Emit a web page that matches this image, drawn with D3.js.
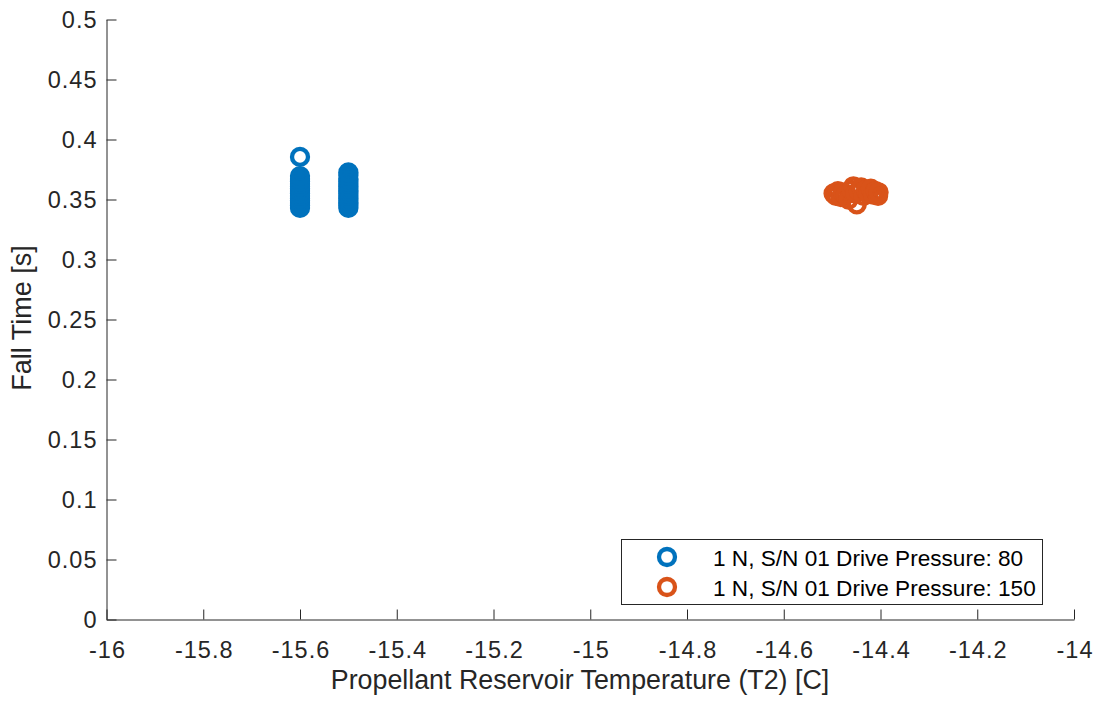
<!DOCTYPE html>
<html>
<head>
<meta charset="utf-8">
<script src="https://cdn.jsdelivr.net/npm/d3@7"></script>
<style>
  html, body { margin: 0; padding: 0; background: #fff; }
  svg { display: block; font-family: "Liberation Sans", Arial, Helvetica, sans-serif; }
</style>
</head>
<body>
<svg id="chart" width="1098" height="703"></svg>
<script>
// ---- data ----
const seriesNames = ["1 N, S/N 01 Drive Pressure: 80", "1 N, S/N 01 Drive Pressure: 150"];
const seriesColors = ["#0072BD", "#D95319"];

const blueTemp = [-15.6, -15.6, -15.6, -15.6, -15.6, -15.6, -15.6, -15.6, -15.6, -15.6, -15.6, -15.6, -15.6, -15.6, -15.6,
                  -15.5, -15.5, -15.5, -15.5, -15.5, -15.5, -15.5, -15.5, -15.5, -15.5, -15.5, -15.5, -15.5, -15.5, -15.5];
const blueFall = [0.343, 0.345, 0.347, 0.349, 0.351, 0.353, 0.355, 0.357, 0.359, 0.361, 0.363, 0.365, 0.367, 0.3695, 0.3855,
                  0.343, 0.345, 0.347, 0.349, 0.351, 0.353, 0.355, 0.357, 0.359, 0.361, 0.363, 0.365, 0.367, 0.370, 0.3725];

const orangeTemp = [-14.497, -14.492, -14.488, -14.482, -14.478, -14.472, -14.466, -14.460, -14.456, -14.452, -14.449,
                    -14.445, -14.440, -14.435, -14.430, -14.425, -14.420, -14.415, -14.410, -14.405, -14.404];
const orangeFall = [0.355, 0.353, 0.357, 0.352, 0.356, 0.354, 0.350, 0.358, 0.361, 0.355, 0.346,
                    0.357, 0.360, 0.353, 0.358, 0.355, 0.359, 0.354, 0.357, 0.353, 0.356];

const xTicks = [-16, -15.8, -15.6, -15.4, -15.2, -15, -14.8, -14.6, -14.4, -14.2, -14];
const yTicks = [0, 0.05, 0.1, 0.15, 0.2, 0.25, 0.3, 0.35, 0.4, 0.45, 0.5];
const xLabel = "Propellant Reservoir Temperature (T2) [C]";
const yLabel = "Fall Time [s]";

// ---- layout ----
const svg = d3.select("#chart");
const axisColor = "#262626";
const pLeft = 106.5, pRight = 1074, pTop = 19.5, pBottom = 619.5;

const x = d3.scaleLinear().domain([-16, -14]).range([pLeft, pRight]);
const y = d3.scaleLinear().domain([0, 0.5]).range([pBottom, pTop]);

// axes
const xAxis = d3.axisBottom(x).tickValues(xTicks).tickSizeInner(-10).tickSizeOuter(0).tickPadding(22)
  .tickFormat(d => String(+d.toFixed(2)));
const yAxis = d3.axisLeft(y).tickValues(yTicks).tickSizeInner(-10).tickSizeOuter(0).tickPadding(10)
  .tickFormat(d => String(+d.toFixed(2)));

const gx = svg.append("g").attr("transform", `translate(0,${pBottom})`).call(xAxis);
const gy = svg.append("g").attr("transform", `translate(${pLeft},0)`).call(yAxis);

[gx, gy].forEach(g => {
  g.select(".domain").attr("stroke", axisColor).attr("stroke-width", 1);
  g.selectAll(".tick line").attr("stroke", axisColor).attr("stroke-width", 1);
  g.selectAll(".tick text").attr("fill", axisColor).attr("font-size", 23.5)
    .attr("letter-spacing", "1px")
    .attr("font-family", "'Liberation Sans', Arial, sans-serif");
});
gx.selectAll(".tick text").attr("dy", "0.71em").attr("y", 22).attr("dx", "0.5px");
gy.selectAll(".tick text").attr("dx", "1px");

// labels
svg.append("text").attr("x", 580).attr("y", 689)
  .attr("text-anchor", "middle").attr("font-size", 26.8).attr("fill", axisColor).text(xLabel);
svg.append("text").attr("transform", `translate(31,318) rotate(-90)`)
  .attr("text-anchor", "middle").attr("font-size", 27).attr("fill", axisColor).text(yLabel);

// markers
const r = 8, sw = 4.3;
const plot = svg.append("g");
const blue = blueTemp.map((t, i) => ({ t, f: blueFall[i] }));
const orange = orangeTemp.map((t, i) => ({ t, f: orangeFall[i] }));
[[blue, seriesColors[0]], [orange, seriesColors[1]]].forEach(([data, col]) => {
  plot.append("g").selectAll("circle").data(data).join("circle")
    .attr("cx", d => x(d.t)).attr("cy", d => y(d.f)).attr("r", r)
    .attr("fill", "none").attr("stroke", col).attr("stroke-width", sw);
});

// legend
const lg = svg.append("g");
lg.append("rect").attr("x", 621.5).attr("y", 539.5).attr("width", 421).attr("height", 65)
  .attr("fill", "#fff").attr("stroke", axisColor).attr("stroke-width", 1);
seriesNames.forEach((name, i) => {
  const cy = 557 + i * 30;
  lg.append("circle").attr("cx", 667).attr("cy", cy).attr("r", r)
    .attr("fill", "none").attr("stroke", seriesColors[i]).attr("stroke-width", sw);
  lg.append("text").attr("x", 713).attr("y", cy + 8.5).attr("font-size", 22.6)
    .attr("fill", "#000").text(name);
});
</script>
</body>
</html>
